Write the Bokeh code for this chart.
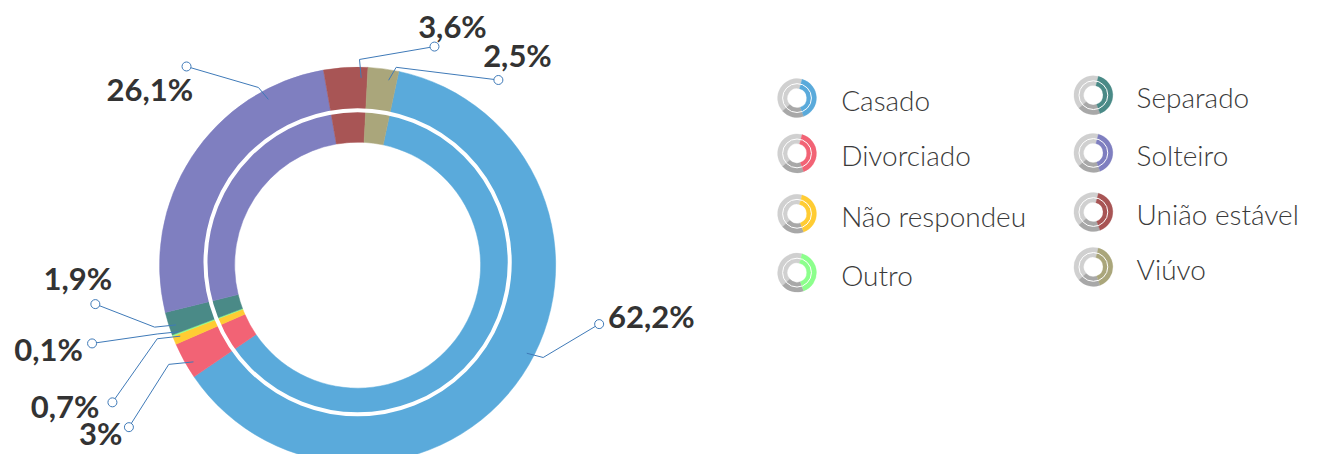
import math
from bokeh.plotting import figure
from bokeh.models import Range1d, ColumnDataSource
from bokeh.embed import file_html
from bokeh.resources import INLINE
from bokeh.core.properties import value

# ---------------- data ----------------
categories = ["Casado", "Divorciado", "Não respondeu", "Outro",
              "Separado", "Solteiro", "União estável", "Viúvo"]
percentages = [62.2, 3.0, 0.7, 0.1, 1.9, 26.1, 3.6, 2.5]
label_texts = ["62,2%", "3%", "0,7%", "0,1%", "1,9%", "26,1%", "3,6%", "2,5%"]
colors = ["#5AAADB", "#F26375", "#FFCC33", "#8CFF8C",
          "#4A8A87", "#7F7FC0", "#A85555", "#AAA67B"]

# ---------------- layout / style ----------------
W, H = 1303, 454
REF_W, REF_H = 1319, 470


def sy(y):  # top-down layout y -> data y
    return REF_H - y


p = figure(width=W, height=H, x_range=Range1d(0, REF_W), y_range=Range1d(0, REF_H),
           output_backend="svg", toolbar_location=None, min_border=0,
           x_axis_location=None, y_axis_location=None)
p.grid.visible = False
p.outline_line_color = None
p.background_fill_color = "white"
p.border_fill_color = "white"

CX, CY = 361.5, 274.0
R_OUT, R_IN = 200.5, 124.5
START = 12.0  # degrees clockwise from 12 o'clock

total = sum(percentages)
starts, ends = [], []
t = START
for v in percentages:
    span = v / total * 360.0
    starts.append(t)
    ends.append(t + span)
    t += span


def mang(cw):
    return math.radians(90.0 - cw)


src = ColumnDataSource(dict(
    start=[mang(e) for e in ends],
    end=[mang(s) for s in starts],
    color=colors,
))
p.annular_wedge(x=CX, y=sy(CY), inner_radius=R_IN, outer_radius=R_OUT,
                start_angle="start", end_angle="end", direction="anticlock",
                fill_color="color", line_color="color", line_width=0.5, source=src)

# white separating ring
p.circle(x=CX, y=sy(271.0), radius=154, fill_color=None, line_color="white", line_width=4)

# ---------------- labels with leader lines ----------------
# per slice: fraction along slice for anchor, elbow offset, end-circle position,
# text position (digit centre) and alignment
leader_layout = [
    (0.474, (16.6, 4.4), (606.0, 335.0), (615.0, 326.3, "left")),
    (0.30, (-25.0, 2.6), (130.0, 441.7), (123.5, 448.0, "right")),
    (0.50, (-23.3, 2.7), (113.3, 416.0), (100.0, 420.0, "right")),
    (0.50, (-21.6, 2.3), (92.7, 355.0), (83.5, 361.0, "right")),
    (0.30, (-21.6, 2.3), (96.0, 314.3), (78.3, 287.5, "center")),
    (0.81, (-10.0, -12.3), (188.3, 68.3), (195.0, 91.7, "right")),
    (0.85, (-1.7, -19.0), (439.3, 47.7), (457.5, 26.7, "center")),
    (0.70, (7.7, -13.4), (504.0, 82.3), (523.3, 56.5, "center")),
]
R_ANCHOR = 194.0
LEADER = "#3F7AB8"
xs, ys, cxs, cys = [], [], [], []
for i, (frac, (edx, edy), (ccx, ccy), (tx, ty, al)) in enumerate(leader_layout):
    a = starts[i] + frac * (ends[i] - starts[i])
    ax = CX + R_ANCHOR * math.sin(math.radians(a))
    ay = CY - R_ANCHOR * math.cos(math.radians(a))
    ex, ey = ax + edx, ay + edy
    xs.append([ax, ex, ccx])
    ys.append([sy(ay), sy(ey), sy(ccy)])
    cxs.append(ccx)
    cys.append(sy(ccy))
    p.text(x=[tx], y=[sy(ty)], text=[label_texts[i]], text_font=value("Lato"),
           text_font_style="bold", text_font_size="31px", text_color="#333333",
           text_align=al, text_baseline="middle")
p.multi_line(xs=xs, ys=ys, line_color=LEADER, line_width=1)
p.scatter(x=cxs, y=cys, marker="circle", size=9, fill_color="white",
          line_color=LEADER, line_width=1)

# ---------------- legend ----------------
icon_x = [806.3] * 4 + [1106.3] * 4
icon_y = [101.0, 158.3, 220.8, 281.7, 98.0, 157.8, 219.0, 275.8]
text_x = [851.0] * 4 + [1150.0] * 4
IR_OUT, IR_IN = 19.7, 9.8
seg_defs = [("#D0D0D0", 228.0, 375.0), ("#A8A8A8", 160.0, 228.0)]
lx, ly, ls, le, lc = [], [], [], [], []
for k in range(len(categories)):
    segs = seg_defs + [(colors[k], 15.0, 160.0)]
    for col, a0, a1 in segs:
        lx.append(icon_x[k])
        ly.append(sy(icon_y[k]))
        ls.append(mang(a1))
        le.append(mang(a0))
        lc.append(col)
p.annular_wedge(x=lx, y=ly, inner_radius=IR_IN, outer_radius=IR_OUT,
                start_angle=ls, end_angle=le, direction="anticlock",
                fill_color=lc, line_color=lc, line_width=0.3)
p.circle(x=icon_x, y=[sy(v) for v in icon_y], radius=14.6, fill_color=None,
         line_color="white", line_width=1)
p.text(x=text_x, y=[sy(v + 2.0) for v in icon_y], text=categories,
       text_font=value("Lato Light, Lato"), text_font_size="28px", text_color="#3A3A3A",
       text_align="left", text_baseline="middle")

open("out.html", "w").write(file_html(p, INLINE))
